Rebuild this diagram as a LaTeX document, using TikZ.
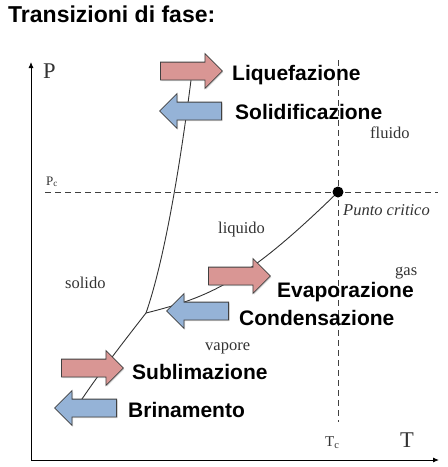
\documentclass[tikz,border=0pt]{standalone}
\usepackage{fontspec}
\setmainfont{Liberation Serif}
\newfontfamily\labelfont{Liberation Sans}
\usetikzlibrary{shapes.arrows}
\usetikzlibrary{arrows.meta}
\usetikzlibrary{shadows}
\definecolor{meltred}{HTML}{D99694}
\definecolor{frostblue}{HTML}{95B3D7}
\definecolor{arrowline}{HTML}{404040}
\definecolor{phasegray}{HTML}{333333}

\begin{document}
\begin{tikzpicture}[x=1pt,y=-1pt,
        block/.style={single arrow, draw=arrowline, line width=0.8pt, anchor=tail,
            single arrow head extend=8.5pt, minimum height=62pt, inner xsep=0pt, inner ysep=8.5pt,
            drop shadow={shadow xshift=1pt, shadow yshift=-1.2pt, opacity=0.3}},
        toright/.style={block, fill=meltred},
        toleft/.style={block, fill=frostblue, shape border rotate=180},
        proc/.style={font=\labelfont\bfseries\fontsize{21}{21}\selectfont, anchor=base west, inner sep=0pt},
        phase/.style={font=\fontsize{16.5}{16.5}\selectfont, text=phasegray, anchor=base west, inner sep=0pt},
        guide/.style={dash pattern=on 6pt off 4pt, draw=black!75, line width=0.8pt},
        curve/.style={draw=black!80, line width=0.9pt}]
        \useasboundingbox (0,0) rectangle (448,467);

        %title
        \node[font=\labelfont\bfseries\fontsize{23}{23}\selectfont, anchor=base west, inner sep=0pt] (title) at (8,22) {Transizioni di fase:};

        %axes
        \coordinate (o) at (31,460);
        \coordinate (ytop) at (31,62);
        \coordinate (xend) at (439,460);
        \draw[line width=0.9pt, -{Latex[length=6pt,width=5pt]}] (o) -- (ytop);
        \draw[line width=0.9pt, -{Latex[length=6pt,width=5pt]}] (o) -- (xend);
        \node[font=\fontsize{22.5}{22.5}\selectfont, text=phasegray, anchor=base west, inner sep=0pt] (plab) at (43,78) {P};
        \node[font=\fontsize{22.5}{22.5}\selectfont, text=phasegray, anchor=base west, inner sep=0pt] (tlab) at (400,447) {T};

        %critical lines
        \coordinate (pcl) at (45,192);
        \coordinate (pcr) at (438,192);
        \coordinate (tct) at (338,60);
        \coordinate (tcb) at (338,422);
        \draw[guide] (pcl) -- (pcr);
        \draw[guide] (tct) -- (tcb);
        \node[font=\fontsize{13}{13}\selectfont, text=phasegray, anchor=base west, inner sep=0pt] (pc) at (46,185) {P\textsubscript{c}};
        \node[font=\fontsize{15}{15}\selectfont, text=phasegray, anchor=base west, inner sep=0pt] (tc) at (325,446) {T\textsubscript{c}};

        %phase boundaries
        \coordinate (tp) at (146,313);
        \coordinate (mtop) at (193,64);
        \coordinate (sbot) at (80,402);
        \node[fill=black, circle, inner sep=0pt, minimum size=11pt] (cp) at (338,192) {};
        \draw[curve] (tp) .. controls (168,250) and (185,130) .. (mtop);
        \draw[curve] (tp) .. controls (210,297) and (245,282) .. (cp);
        \draw[curve] (tp) .. controls (125,340) and (100,372) .. (sbot);

        %phase names
        \node[phase] (fluido) at (370,138) {fluido};
        \node[phase] (liquido) at (218,233) {liquido};
        \node[phase] (solido) at (65,288) {solido};
        \node[phase] (gas) at (395,275) {gas};
        \node[phase] (vapore) at (205,350) {vapore};
        \node[phase, font=\itshape\fontsize{16.5}{16.5}\selectfont] (crit) at (343,215) {Punto critico};

        %block arrows
        \node[toright] (liq) at (160,71) {};
        \node[toleft] (sol) at (222,111) {};
        \node[toright] (eva) at (208,276) {};
        \node[toleft] (con) at (229,311) {};
        \node[toright] (sub) at (61,368) {};
        \node[toleft] (bri) at (117,408) {};

        %process names
        \node[proc] (lliq) at (232,80) {Liquefazione};
        \node[proc] (lsol) at (235,119) {Solidificazione};
        \node[proc] (leva) at (277,297) {Evaporazione};
        \node[proc] (lcon) at (239,325) {Condensazione};
        \node[proc] (lsub) at (132,379) {Sublimazione};
        \node[proc] (lbri) at (128,417) {Brinamento};
    \end{tikzpicture}
\end{document}
